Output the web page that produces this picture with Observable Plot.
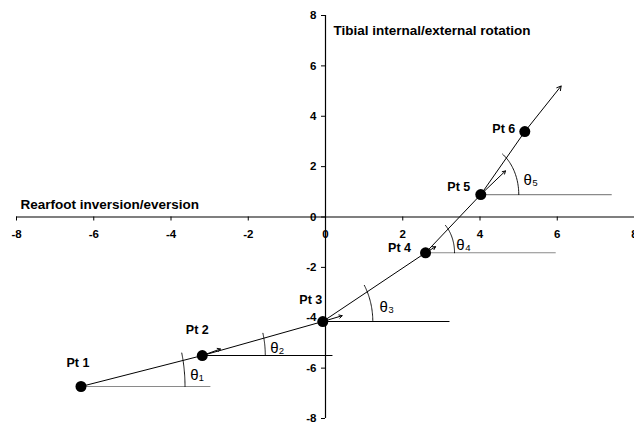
<!DOCTYPE html>
<html>
<head>
<meta charset="utf-8">
<script src="https://cdn.jsdelivr.net/npm/d3@7"></script>
<script src="https://cdn.jsdelivr.net/npm/@observablehq/plot@0.6"></script>
<style>
  html, body { margin: 0; padding: 0; background: #fff; }
  svg { display: block; }
</style>
</head>
<body>
<div id="chart"></div>
<script>
// ---- data ----
const ptLabels = ["Pt 1", "Pt 2", "Pt 3", "Pt 4", "Pt 5", "Pt 6"];
const ptX = [-6.33, -3.19, -0.07, 2.59, 4.02, 5.16];
const ptY = [-6.73, -5.50, -4.15, -1.42, 0.89, 3.39];
const pathEnd = {x: 6.10, y: 5.20};
const refLineEndX = [-2.98, 0.18, 3.21, 5.96, 7.41];   // horizontal reference lines from Pt1..Pt5
const velEndX = [-2.72, 0.43, 2.85, 4.66];             // small arrows at Pt2..Pt5
const velEndY = [-5.24, -3.92, -1.18, 1.83];
const thetaLabels = ["θ₁", "θ₂", "θ₃", "θ₄", "θ₅"];
const xTicks = [-8, -6, -4, -2, 0, 2, 4, 6, 8];
const yTicks = [-8, -6, -4, -2, 0, 2, 4, 6, 8];
const xTitle = "Rearfoot inversion/eversion";
const yTitle = "Tibial internal/external rotation";

// ---- layout / style ----
const W = 634, H = 423;
const mL = 16, mR = 0, mT = 15, mB = 5;
const pxX = (W - mL - mR) / 16;   // pixels per x unit
const pxY = (H - mT - mB) / 16;   // pixels per y unit
const refColors = ["#8a8a8a", "#000", "#000", "#8a8a8a", "#8a8a8a"];
const arcR = [104, 63, 50, 29, 38];
const arcStretch = 1.3;
const thetaOff = [[116, -11], [75, -7], [64, -14], [38, -8], [50, -14]];   // pixel offsets from vertex
const labelOff = [[-3, -24], [-5, -26], [-12, -22], [-26, -5], [-22, -8], [-21, -3]];
const font = "Liberation Sans, Arial, Helvetica, sans-serif";

const pts = ptX.map((x, i) => ({x, y: ptY[i], label: ptLabels[i],
  lx: x + labelOff[i][0] / pxX, ly: ptY[i] - labelOff[i][1] / pxY}));
const refLines = refLineEndX.map((x2, i) => ({x1: ptX[i], x2, y: ptY[i], c: refColors[i]}));
const vel = velEndX.map((x2, i) => ({x1: ptX[i + 1], y1: ptY[i + 1], x2, y2: velEndY[i]}));

// arcs drawn in pixel space around each vertex, from horizontal to the next segment
const arcs = [];
for (let i = 0; i < 5; i++) {
  const a = Math.atan2((ptY[i + 1] - ptY[i]) * pxY, (ptX[i + 1] - ptX[i]) * pxX);
  const n = 30;
  for (let k = 0; k <= n; k++) {
    const t = a * k / n;
    arcs.push({
      id: i,
      x: ptX[i] + arcR[i] * Math.cos(t) / pxX,
      y: ptY[i] + arcR[i] * arcStretch * Math.sin(t) / pxY
    });
  }
}
const thetas = thetaLabels.map((t, i) => ({
  x: ptX[i] + thetaOff[i][0] / pxX, y: ptY[i] - thetaOff[i][1] / pxY, t}));

const chart = Plot.plot({
  width: W, height: H,
  marginLeft: mL, marginRight: mR, marginTop: mT, marginBottom: mB,
  x: {domain: [-8, 8], axis: null},
  y: {domain: [-8, 8], axis: null},
  style: {fontFamily: font, background: "#fff", overflow: "visible"},
  marks: [
    // axes
    Plot.ruleY([0], {x1: -8, x2: 8, stroke: "#000", strokeWidth: 1.2}),
    Plot.ruleX([0], {y1: -8, y2: 8, stroke: "#000", strokeWidth: 1.2}),
    Plot.ruleX(xTicks, {x: d => d, y1: 0, y2: -4 / pxY, stroke: "#000"}),
    Plot.ruleY(yTicks, {y: d => d, x1: 0, x2: -4 / pxX, stroke: "#000"}),
    Plot.text(xTicks, {x: d => d, y: 0, dy: 17, text: d => String(d), fontSize: 11.5, fontWeight: "bold", fill: "#000"}),
    Plot.text(yTicks, {x: 0, y: d => d, dx: -9, text: d => String(d), textAnchor: "end", fontSize: 11.5, fontWeight: "bold", fill: "#000"}),
    // titles
    Plot.text([xTitle], {frameAnchor: "left", dx: 4, dy: -12, text: d => d, textAnchor: "start", fontSize: 13.5, fontWeight: "bold", fill: "#000"}),
    Plot.text([yTitle], {frameAnchor: "top", dx: 8, dy: 10, text: d => d, textAnchor: "start", fontSize: 13.5, fontWeight: "bold", fill: "#000"}),
    // horizontal reference lines
    Plot.link(refLines, {x1: "x1", x2: "x2", y1: "y", y2: "y", stroke: "c", strokeWidth: 1.1}),
    // angle arcs
    Plot.line(arcs, {x: "x", y: "y", z: "id", stroke: "#000", strokeWidth: 0.9}),
    Plot.text(thetas, {x: "x", y: "y", text: "t", fontSize: 15, fill: "#000"}),
    // coupling path
    Plot.line(pts, {x: "x", y: "y", stroke: "#000", strokeWidth: 1}),
    Plot.arrow([{x1: ptX[5], y1: ptY[5], x2: pathEnd.x, y2: pathEnd.y}], {x1: "x1", y1: "y1", x2: "x2", y2: "y2", stroke: "#000", strokeWidth: 1, headLength: 7}),
    // small direction arrows
    Plot.arrow(vel, {x1: "x1", y1: "y1", x2: "x2", y2: "y2", stroke: "#000", strokeWidth: 1, headLength: 5}),
    // points
    Plot.dot(pts, {x: "x", y: "y", r: 5.5, fill: "#000"}),
    Plot.text(pts, {x: "lx", y: "ly", text: "label", fontSize: 12.5, fontWeight: "bold", fill: "#000"})
  ]
});
document.getElementById("chart").appendChild(chart);
</script>
</body>
</html>
